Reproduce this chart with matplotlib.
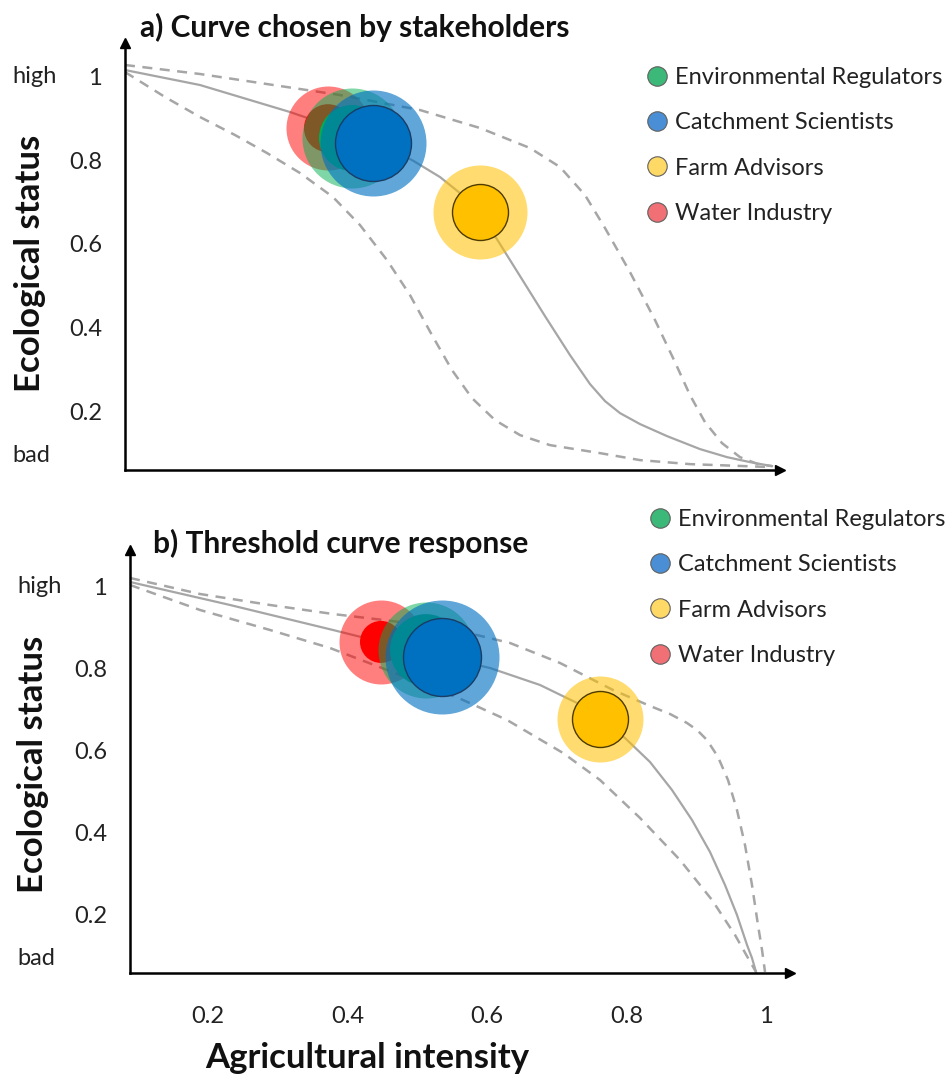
import matplotlib
matplotlib.use("Agg")
import matplotlib.pyplot as plt
from matplotlib.lines import Line2D

plt.rcParams['font.family'] = ['Lato', 'DejaVu Sans']

# ---------------- data ----------------
groups = ["Water Industry", "Environmental Regulators", "Catchment Scientists", "Farm Advisors"]
legend_order = ["Environmental Regulators", "Catchment Scientists", "Farm Advisors", "Water Industry"]
base_colors = {"Water Industry": "#ff0000", "Environmental Regulators": "#00b050",
               "Catchment Scientists": "#0070c0", "Farm Advisors": "#ffc000"}
legend_colors = {"Environmental Regulators": "#3cb878", "Catchment Scientists": "#4a8fd6",
                 "Farm Advisors": "#ffd966", "Water Industry": "#f07075"}

# panel a: stakeholder positions (agricultural intensity, ecological status)
a_x = [0.372, 0.4065, 0.437, 0.590]
a_y = [0.876, 0.8525, 0.841, 0.676]
a_spread = [42, 50, 53, 47]     # radius of uncertainty halo (px)
a_core = [24, 33, 38, 28]       # radius of core disc (px)

# panel b
b_x = [0.448, 0.5125, 0.5355, 0.762]
b_y = [0.866, 0.846, 0.829, 0.678]
b_spread = [42, 48, 57, 43]
b_core = [21, 36, 39, 28]

# curves panel a
a_solid_x = [0.0810, 0.1885, 0.3176, 0.3720, 0.4366, 0.4925, 0.5326, 0.5684, 0.5971, 0.6258,
             0.6545, 0.6831, 0.7190, 0.7477, 0.7692, 0.7907, 0.8194, 0.8581, 0.9054, 0.9441,
             0.9771, 1.0086]
a_solid_y = [1.0149, 0.9791, 0.9146, 0.8836, 0.8406, 0.8000, 0.7594, 0.7116, 0.6567, 0.5803,
             0.5039, 0.4275, 0.3343, 0.2651, 0.2245, 0.1958, 0.1696, 0.1409, 0.1099, 0.0907,
             0.0788, 0.0693]
a_up_x = [0.0810, 0.1885, 0.2746, 0.3892, 0.5039, 0.5900, 0.6616, 0.7047, 0.7405, 0.7692,
          0.8050, 0.8409, 0.8695, 0.8910, 0.9125, 0.9369, 0.9627, 0.9885, 1.0086]
a_up_y = [1.0269, 1.0054, 0.9839, 0.9552, 0.9194, 0.8764, 0.8287, 0.7833, 0.7164, 0.6376,
          0.5325, 0.4179, 0.3176, 0.2388, 0.1743, 0.1242, 0.0907, 0.0740, 0.0693]
a_lo_x = [0.0810, 0.1384, 0.1885, 0.2387, 0.2846, 0.3319, 0.3792, 0.4179, 0.4566, 0.4896,
          0.5211, 0.5498, 0.5785, 0.6115, 0.6473, 0.6903, 0.7620, 0.8194, 0.8910, 1.0086]
a_lo_y = [1.0101, 0.9504, 0.9027, 0.8597, 0.8167, 0.7690, 0.7116, 0.6448, 0.5612, 0.4776,
          0.3821, 0.2985, 0.2316, 0.1791, 0.1433, 0.1194, 0.1003, 0.0836, 0.0740, 0.0669]

# curves panel b
b_solid_x = [0.0882, 0.2315, 0.3792, 0.4480, 0.5355, 0.6043, 0.6760, 0.7290, 0.7620, 0.7978,
             0.8337, 0.8652, 0.8939, 0.9197, 0.9412, 0.9584, 0.9728, 0.9799, 0.9857]
b_solid_y = [1.0122, 0.9561, 0.8951, 0.8659, 0.8293, 0.8024, 0.7610, 0.7171, 0.6780, 0.6317,
             0.5732, 0.5049, 0.4317, 0.3537, 0.2732, 0.2000, 0.1268, 0.0951, 0.0610]
b_up_x = [0.0882, 0.1885, 0.2889, 0.3792, 0.4753, 0.5613, 0.6330, 0.7047, 0.7806, 0.8337,
          0.8624, 0.8867, 0.9011, 0.9154, 0.9312, 0.9455, 0.9584, 0.9699, 0.9799, 0.9885,
          0.9943, 0.9986]
b_up_y = [1.0220, 0.9829, 0.9561, 0.9341, 0.9146, 0.8927, 0.8634, 0.8146, 0.7488, 0.7098,
          0.6902, 0.6683, 0.6512, 0.6268, 0.5854, 0.5293, 0.4561, 0.3707, 0.2732, 0.1756,
          0.1146, 0.0610]
b_lo_x = [0.0882, 0.1885, 0.2889, 0.3749, 0.4753, 0.5656, 0.6287, 0.7090, 0.7620, 0.8194,
          0.8767, 0.9226, 0.9556, 0.9742, 0.9857]
b_lo_y = [1.0049, 0.9439, 0.8951, 0.8512, 0.7854, 0.7244, 0.6756, 0.5951, 0.5293, 0.4366,
          0.3341, 0.2366, 0.1512, 0.0951, 0.0610]

y_ticks = [1, 0.8, 0.6, 0.4, 0.2]
y_ticklabels = ["1", "0.8", "0.6", "0.4", "0.2"]
x_ticks = [0.2, 0.4, 0.6, 0.8, 1.0]
x_ticklabels = ["0.2", "0.4", "0.6", "0.8", "1"]

# ---------------- figure ----------------
W, H = 952, 1080
fig = plt.figure(figsize=(W / 100, H / 100), dpi=100)


def px_rect(left, top, right, bottom):
    return [left / W, 1 - bottom / H, (right - left) / W, (bottom - top) / H]


def pt(px):
    return px * 72 / 100


GREY = "#a6a6a6"
TXT = "#222222"
TICK_FS = 17
LEG_FS = 17
LABEL_FS = 25


def setup_axes(ax, xlim, ylim):
    ax.set_xlim(*xlim)
    ax.set_ylim(*ylim)
    for s in ["top", "right"]:
        ax.spines[s].set_visible(False)
    for s in ["left", "bottom"]:
        ax.spines[s].set_linewidth(1.8)
        ax.spines[s].set_color("black")
    ax.plot([1], [0], marker=">", ms=7, color="black", transform=ax.transAxes, clip_on=False)
    ax.plot([0], [1], marker="^", ms=7, color="black", transform=ax.transAxes, clip_on=False)
    ax.set_yticks(y_ticks)
    ax.set_yticklabels(y_ticklabels)
    ax.tick_params(axis="both", length=0, labelsize=TICK_FS, labelcolor=TXT)
    ax.tick_params(axis="y", pad=pt(23))
    for word, yv in (("high", 1.0), ("bad", 0.095)):
        ax.annotate(word, xy=(0, yv), xycoords=("axes fraction", "data"),
                    xytext=(-pt(113), 0), textcoords="offset points",
                    ha="left", va="center", fontsize=TICK_FS, color=TXT)
    ax.set_ylabel("Ecological status", fontsize=LABEL_FS, fontweight="bold", color="#111111")
    ax.yaxis.label.set_va("center")


def draw_curves(ax, sx, sy, ux, uy, lx, ly):
    ax.plot(sx, sy, color=GREY, lw=1.6, zorder=1, solid_joinstyle="round")
    ax.plot(ux, uy, color=GREY, lw=1.8, ls=(0, (4, 3)), zorder=1)
    ax.plot(lx, ly, color=GREY, lw=1.8, ls=(0, (4, 3)), zorder=1)


halo_alpha = {"Water Industry": 0.5, "Environmental Regulators": 0.5,
              "Catchment Scientists": 0.62, "Farm Advisors": 0.56}
core_edge = {"Catchment Scientists": "#1a3d66", "Farm Advisors": "#4d3b00"}


def draw_groups(ax, xs, ys, spread, core):
    z = 3
    for g, x, y, rs, rc in zip(groups, xs, ys, spread, core):
        c = base_colors[g]
        ax.scatter([x], [y], s=(2 * pt(rs)) ** 2, color=c, alpha=halo_alpha[g],
                   linewidths=0, zorder=z)
        edge = core_edge.get(g, "none")
        ax.scatter([x], [y], s=(2 * pt(rc)) ** 2, color=c, edgecolors=edge,
                   linewidths=1.0 if edge != "none" else 0, zorder=z + 1)
        z += 2


def add_legend(ax, left_px, top_px):
    handles = [Line2D([], [], ls="none", marker="o", ms=14, markerfacecolor=legend_colors[g],
                      markeredgecolor="#606060", markeredgewidth=0.8, label=g) for g in legend_order]
    ax.legend(handles=handles, loc="upper left", bbox_to_anchor=(left_px / W, 1 - top_px / H),
              bbox_transform=fig.transFigure, frameon=False, fontsize=LEG_FS,
              handlelength=1.0, handletextpad=0.28, labelspacing=1.03, borderpad=0,
              borderaxespad=0, labelcolor=TXT)


# panel a
ax_a = fig.add_axes(px_rect(125, 43, 780, 470))
setup_axes(ax_a, ((125 - 68.5) / 697.5, (780 - 68.5) / 697.5), (0.06, 1.0794))
ax_a.set_xticks([])
ax_a.yaxis.set_label_coords(-0.145, 0.485)
draw_curves(ax_a, a_solid_x, a_solid_y, a_up_x, a_up_y, a_lo_x, a_lo_y)
draw_groups(ax_a, a_x, a_y, a_spread, a_core)
add_legend(ax_a, 645, 67)

# panel b
ax_b = fig.add_axes(px_rect(130, 550, 790, 973))
setup_axes(ax_b, ((130 - 68.5) / 697.5, (790 - 68.5) / 697.5), (0.0585, 1.0902))
ax_b.set_xticks(x_ticks)
ax_b.set_xticklabels(x_ticklabels)
ax_b.tick_params(axis="x", pad=pt(33))
ax_b.yaxis.set_label_coords(-0.147, 0.494)
ax_b.set_xlabel("Agricultural intensity", fontsize=LABEL_FS, fontweight="bold", color="#111111")
ax_b.xaxis.label.set_va("center")
ax_b.xaxis.set_label_coords(0.359, -0.201)
draw_curves(ax_b, b_solid_x, b_solid_y, b_up_x, b_up_y, b_lo_x, b_lo_y)
draw_groups(ax_b, b_x, b_y, b_spread, b_core)
add_legend(ax_b, 648, 509)

fig.text(140 / W, 1 - 27 / H, "a) Curve chosen by stakeholders", fontsize=21.5, fontweight="bold",
         ha="left", va="center", color="#111111")
fig.text(153 / W, 1 - 543 / H, "b) Threshold curve response", fontsize=21.5, fontweight="bold",
         ha="left", va="center", color="#111111")

fig.savefig("out.png", dpi=100)
